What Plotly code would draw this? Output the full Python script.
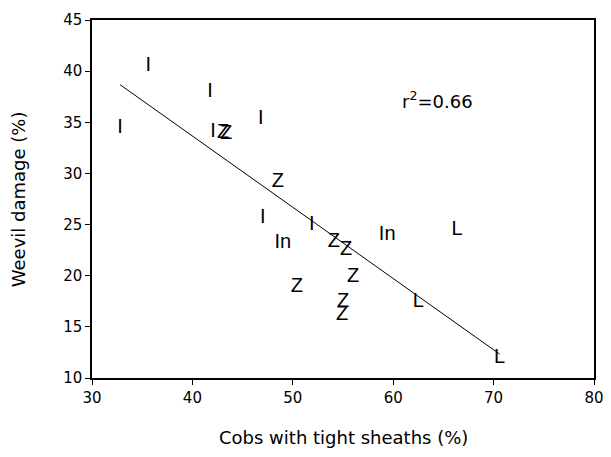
import numpy as np
import plotly.graph_objects as go

# Data (cobs with tight sheaths %, weevil damage %)
labels = ["I", "I", "I", "I", "I", "Z", "Z", "Z", "I", "In", "I",
          "Z", "Z", "In", "L", "Z", "Z", "Z", "Z", "L", "L"]
cobs = [35.6, 41.75, 32.8, 46.8, 42.05, 43.05, 43.35, 48.5, 47.0, 49.0, 51.9,
        54.1, 55.3, 59.4, 66.35, 56.0, 50.4, 55.0, 54.9, 62.5, 70.6]
damage = [40.5, 37.96, 34.44, 35.3, 34.05, 33.95, 33.9, 29.16, 25.6, 23.2, 24.96,
          23.3, 22.5, 24.0, 24.5, 19.9, 18.9, 17.4, 16.2, 17.4, 12.0]

x_ticks = [30, 40, 50, 60, 70, 80]
y_ticks = [10, 15, 20, 25, 30, 35, 40, 45]
x_title = "Cobs with tight sheaths (%)"
y_title = "Weevil damage (%)"
r2_text = "r<sup>2</sup>=0.66"

FONT = "DejaVu Sans, Verdana, sans-serif"
MARK_FONT = "Liberation Sans, Arial, sans-serif"

xa = np.array(cobs)
ya = np.array(damage)
slope, intercept = np.polyfit(xa, ya, 1)
line_x = np.array([xa.min(), xa.max()])
line_y = slope * line_x + intercept

fig = go.Figure()
fig.add_trace(go.Scatter(x=line_x, y=line_y, mode="lines",
                         line=dict(color="black", width=1), hoverinfo="skip",
                         showlegend=False))
fig.add_trace(go.Scatter(x=cobs, y=damage, mode="text", text=labels,
                         textposition="middle center",
                         textfont=dict(family=MARK_FONT, size=20, color="black"),
                         showlegend=False))

fig.add_annotation(x=64.4, y=37.2, text=r2_text, showarrow=False,
                   font=dict(family=FONT, size=18, color="black"))

# axis titles
fig.add_annotation(xref="paper", yref="paper", x=0.5, y=-0.165,
                   text=x_title, showarrow=False, xanchor="center", yanchor="middle",
                   font=dict(family=FONT, size=18, color="black"))
fig.add_annotation(xref="paper", yref="paper", x=-0.147, y=0.5,
                   text=y_title, showarrow=False, textangle=-90,
                   xanchor="center", yanchor="middle",
                   font=dict(family=FONT, size=18, color="black"))

axis_common = dict(showgrid=False, zeroline=False, showline=True,
                   linecolor="black", linewidth=1.5, mirror=True,
                   ticks="outside", ticklen=5, tickcolor="black", tickwidth=1,
                   automargin=False,
                   tickfont=dict(family=FONT, size=15, color="black"))

fig.update_xaxes(range=[30, 80], tickvals=x_ticks, **axis_common)
fig.update_yaxes(range=[10, 45], tickvals=y_ticks, **axis_common)

# page body has an 8px margin, so margins are shifted to place the plot area
fig.update_layout(width=611, height=457,
                  margin=dict(l=84, r=25, t=12, b=87),
                  plot_bgcolor="white", paper_bgcolor="white",
                  font=dict(family=FONT, color="black"))

fig.write_html("out.html")
